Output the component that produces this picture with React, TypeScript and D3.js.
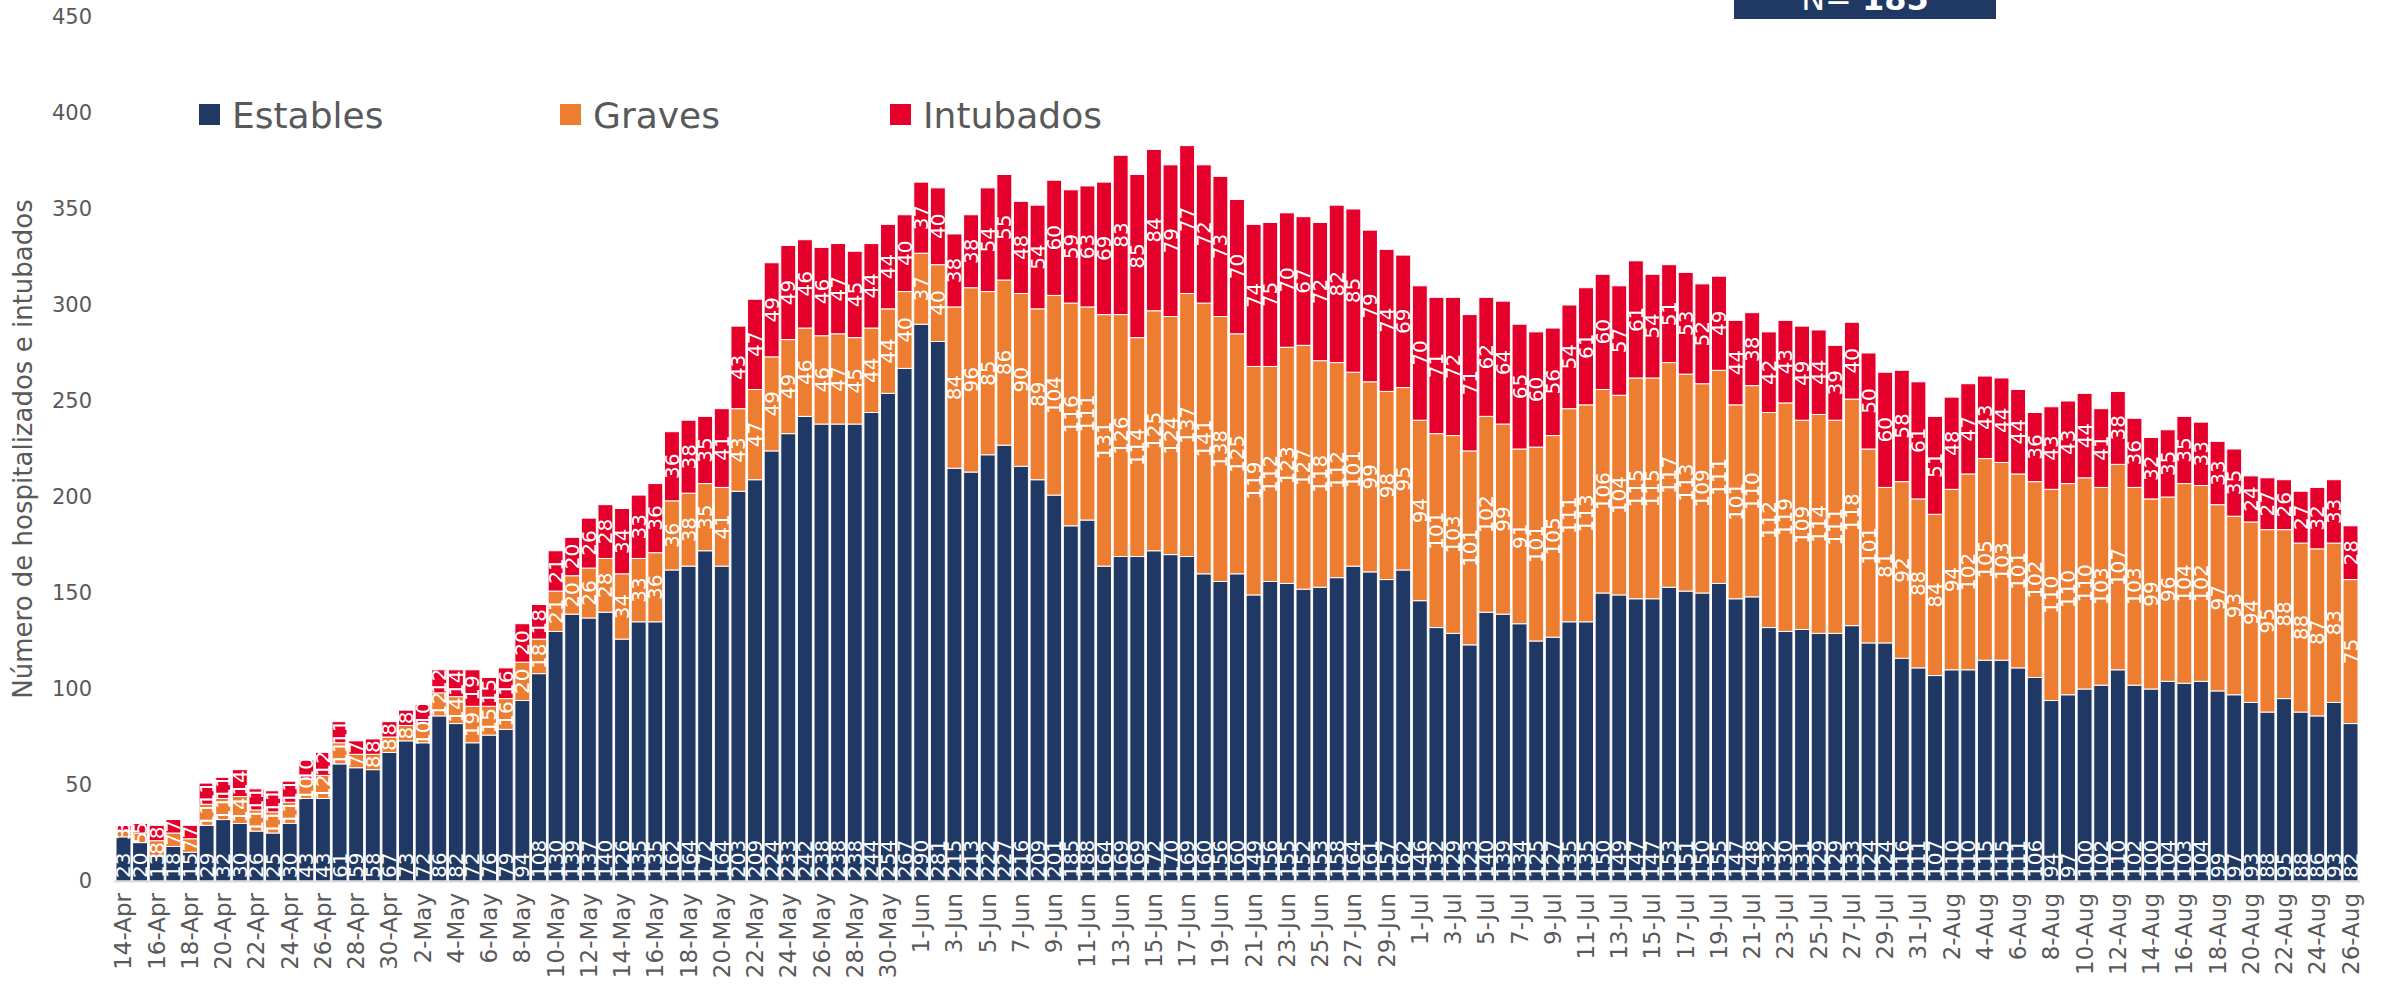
import React from "react";
import * as d3 from "d3";

// categories: one bar per day, 14-Apr .. 26-Aug
const monthSpans: [string, number, number][] = [
  ["Apr", 14, 30],
  ["May", 1, 31],
  ["Jun", 1, 30],
  ["Jul", 1, 31],
  ["Aug", 1, 26],
];
const dates: string[] = [];
monthSpans.forEach(([m, a, b]) => {
  for (let d = a; d <= b; d++) dates.push(`${d}-${m}`);
});

const estables = [
  23, 20, 13, 18, 15, 29, 32, 30, 26, 25, 30, 43, 43, 61, 59, 58, 67,
  73, 72, 86, 82, 72, 76, 79, 94, 108, 130, 139, 137, 140, 126, 135, 135, 162, 164, 172, 164, 203, 209, 224, 233, 242, 238, 238, 238, 244, 254, 267,
  290, 281, 215, 213, 222, 227, 216, 209, 201, 185, 188, 164, 169, 169, 172, 170, 169, 160, 156, 160, 149, 156, 155, 152, 153, 158, 164, 161, 157, 162,
  146, 132, 129, 123, 140, 139, 134, 125, 127, 135, 135, 150, 149, 147, 147, 153, 151, 150, 155, 147, 148, 132, 130, 131, 129, 129, 133, 124, 124, 116, 111,
  107, 110, 110, 115, 115, 111, 106, 94, 97, 100, 102, 110, 102, 100, 104, 103, 104, 99, 97, 93, 88, 95, 88, 86, 93, 82,
];

const graves = [
  3, 5, 8, 7, 7, 11, 11, 14, 11, 11, 11, 10, 12, 11, 7, 8, 8,
  8, 10, 12, 14, 19, 15, 16, 20, 18, 21, 20, 26, 28, 34, 33, 36, 36, 38, 35, 41, 43, 47, 49, 49, 46, 46, 47, 45, 44, 44, 40,
  37, 40, 84, 96, 85, 86, 90, 89, 104, 116, 111, 131, 126, 114, 125, 124, 137, 141, 138, 125, 119, 112, 123, 127, 118, 112, 101, 99, 98, 95,
  94, 101, 103, 101, 102, 99, 91, 101, 105, 111, 113, 106, 104, 115, 115, 117, 113, 109, 111, 101, 110, 112, 119, 109, 114, 111, 118, 101, 81, 92, 88,
  84, 94, 102, 105, 103, 101, 102, 110, 110, 110, 103, 107, 103, 99, 96, 104, 102, 97, 93, 94, 95, 88, 88, 87, 83, 75,
];

const intubados = [
  3, 5, 8, 7, 7, 11, 11, 14, 11, 11, 11, 10, 12, 11, 7, 8, 8,
  8, 10, 12, 14, 19, 15, 16, 20, 18, 21, 20, 26, 28, 34, 33, 36, 36, 38, 35, 41, 43, 47, 49, 49, 46, 46, 47, 45, 44, 44, 40,
  37, 40, 38, 38, 54, 55, 48, 54, 60, 59, 63, 69, 83, 85, 84, 79, 77, 72, 73, 70, 74, 75, 70, 67, 72, 82, 85, 79, 74, 69,
  70, 71, 72, 71, 62, 64, 65, 60, 56, 54, 61, 60, 57, 61, 54, 51, 53, 52, 49, 44, 38, 42, 43, 49, 44, 39, 40, 50, 60, 58, 61,
  51, 48, 47, 43, 44, 44, 36, 43, 43, 44, 41, 38, 36, 32, 35, 35, 33, 33, 35, 24, 27, 26, 27, 32, 33, 28,
];

const seriesNames = ["Estables", "Graves", "Intubados"];
const colors = ["#203864", "#ED7D31", "#E4002B"];
const yTicks = [0, 50, 100, 150, 200, 250, 300, 350, 400, 450];
const totalLabel = "185";

const W = 2387;
const H = 988;
const axisFont = "'DejaVu Sans', sans-serif";
const labelFont = "'DejaVu Sans', sans-serif";

export default function App() {
  const rows = dates.map((d, i) => ({
    date: d,
    Estables: estables[i],
    Graves: graves[i],
    Intubados: intubados[i],
  }));

  const x = d3
    .scaleBand<string>()
    .domain(dates)
    .range([116, 2358])
    .paddingInner(0.1)
    .paddingOuter(0);

  const y = d3.scaleLinear().domain([0, 450]).range([881, 17]);

  const stacked = d3.stack<any>().keys(seriesNames)(rows);
  const bw = x.bandwidth();

  return (
    <svg
      width={W}
      height={H}
      style={{ position: "absolute", left: 0, top: 0, background: "#fff" }}
    >
      {/* N box, mostly cut off at the top as in the source */}
      <rect x={1734} y={-60} width={262} height={79} fill="#203864" />
      <text
        x={1865}
        y={10}
        textAnchor="middle"
        fill="#fff"
        fontFamily={axisFont}
        fontSize={32}
      >
        <tspan>N= </tspan>
        <tspan fontWeight="bold">{totalLabel}</tspan>
      </text>

      {/* y ticks */}
      {yTicks.map((t) => (
        <text
          key={t}
          x={92}
          y={y(t)}
          textAnchor="end"
          dominantBaseline="central"
          fill="#595959"
          fontFamily={axisFont}
          fontSize={21}
        >
          {t}
        </text>
      ))}

      <text
        transform={`translate(23,449) rotate(-90)`}
        textAnchor="middle"
        dominantBaseline="central"
        fill="#595959"
        fontFamily={axisFont}
        fontSize={26}
      >
        Número de hospitalizados e intubados
      </text>

      {/* bars */}
      {stacked.map((s, si) => (
        <g key={s.key}>
          {s.map((d: any, i: number) => (
            <rect
              key={i}
              x={x(dates[i])}
              y={y(d[1])}
              width={bw}
              height={y(d[0]) - y(d[1])}
              fill={colors[si]}
              stroke="#fff"
              strokeWidth={1}
            />
          ))}
        </g>
      ))}

      {/* baseline */}
      <line x1={114} x2={2360} y1={881.5} y2={881.5} stroke="#D9D9D9" strokeWidth={2} />

      {/* data labels */}
      {stacked.map((s, si) => (
        <g key={"l" + s.key} fill="#fff" fontFamily={labelFont} fontSize={20}>
          {s.map((d: any, i: number) => {
            const cx = (x(dates[i]) as number) + bw / 2;
            const v = d[1] - d[0];
            if (si === 0) {
              return (
                <text
                  key={i}
                  transform={`translate(${cx},${y(d[0]) - 3}) rotate(-90)`}
                  dominantBaseline="central"
                  textAnchor="start"
                >
                  {v}
                </text>
              );
            }
            return (
              <text
                key={i}
                transform={`translate(${cx},${(y(d[0]) + y(d[1])) / 2}) rotate(-90)`}
                dominantBaseline="central"
                textAnchor="middle"
              >
                {v}
              </text>
            );
          })}
        </g>
      ))}

      {/* x tick labels, every other day */}
      {dates.map((d, i) =>
        i % 2 === 0 ? (
          <text
            key={d}
            transform={`translate(${(x(d) as number) + bw / 2},893) rotate(-90)`}
            textAnchor="end"
            dominantBaseline="central"
            fill="#595959"
            fontFamily={axisFont}
            fontSize={23}
          >
            {d}
          </text>
        ) : null
      )}

      {/* legend */}
      {seriesNames.map((n, i) => {
        const lx = [199, 560, 890][i];
        return (
          <g key={n}>
            <rect x={lx} y={104} width={21} height={21} fill={colors[i]} />
            <text
              x={lx + 33}
              y={115}
              dominantBaseline="central"
              fill="#595959"
              fontFamily={axisFont}
              fontSize={36}
            >
              {n}
            </text>
          </g>
        );
      })}
    </svg>
  );
}
